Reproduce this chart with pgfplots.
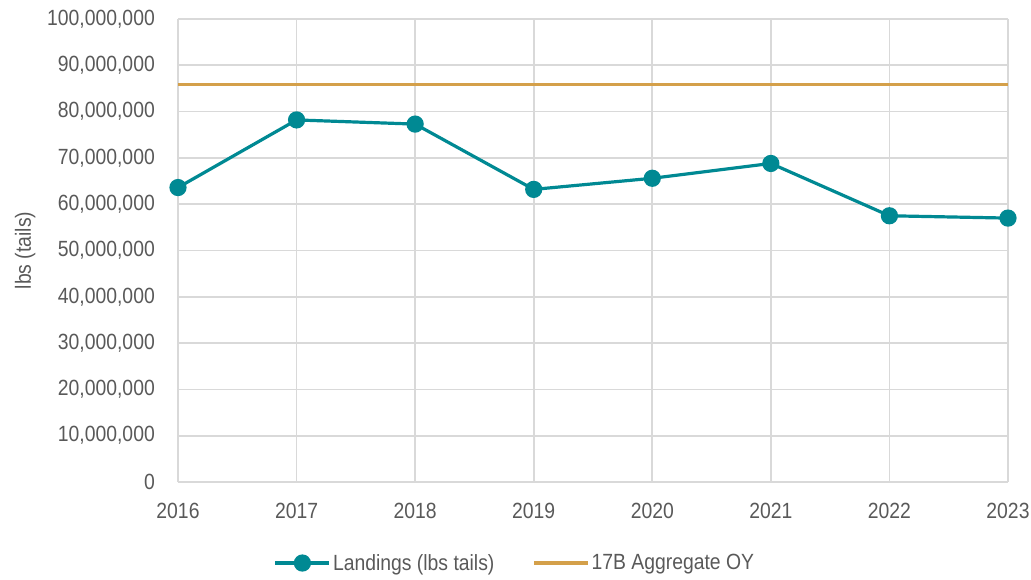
\documentclass[border=0pt]{standalone}
\usepackage{fontspec}
\setmainfont{Liberation Sans}[FakeStretch=0.88]
\usepackage{pgfplots}
\pgfplotsset{compat=1.18}
\definecolor{teal1}{RGB}{0,137,147}
\definecolor{gold1}{RGB}{212,160,74}
\definecolor{grid1}{RGB}{217,217,217}
\definecolor{axis1}{RGB}{191,191,191}
\definecolor{txt}{RGB}{89,89,89}
\begin{document}
\begin{tikzpicture}[x=1pt,y=1pt]
\path[use as bounding box] (0,0) rectangle (1031,579);
\begin{axis}[
  at={(178pt,97pt)}, anchor=south west,
  scale only axis, width=830pt, height=463pt,
  xmin=2016, xmax=2023, ymin=0, ymax=100000000,
  xtick={2016,2017,2018,2019,2020,2021,2022,2023},
  ytick={0,10000000,20000000,30000000,40000000,50000000,60000000,70000000,80000000,90000000,100000000},
  scaled y ticks=false,
  major tick length=0pt,
  axis line style={draw=none},
  grid=major,
  major grid style={grid1, line width=1.6pt},
  extra y ticks={0},
  extra y tick labels={},
  extra y tick style={grid style={axis1, line width=1.8pt}},
  font=\fontsize{22}{26}\selectfont,
  tick label style={txt},
  /pgf/number format/assume math mode=true,
  xticklabel style={anchor=north, inner sep=0pt, yshift=-21pt, /pgf/number format/1000 sep={}},
  yticklabel style={anchor=east, inner sep=0pt, xshift=-23pt, /pgf/number format/.cd, fixed, precision=0, 1000 sep={,}},
  ylabel={lbs (tails)},
  ylabel style={at={(axis description cs:-0.184,0.5)}, anchor=center, txt},
  legend columns=2,
  legend style={at={(axis description cs:0.406,-0.175)}, anchor=center, draw=none, fill=none,
    font=\fontsize{22}{26}\selectfont, text=txt,
    /tikz/every even column/.append style={column sep=36pt},
    nodes={inner sep=2pt}},
  legend image code/.code={\draw[mark repeat=2,mark phase=2,#1] plot coordinates {(0pt,0pt)(27pt,0pt)(54pt,0pt)};},
  clip=false,
]
\addplot[teal1, line width=3.2pt, mark=*, mark size=7pt, mark options={solid, fill=teal1, draw=none}]
  coordinates {(2016,63600000) (2017,78200000) (2018,77300000) (2019,63200000) (2020,65600000) (2021,68800000) (2022,57500000) (2023,57000000)};
\addlegendentry{Landings (lbs tails)}
\addplot[gold1, line width=3.2pt]
  coordinates {(2016,85800000) (2023,85800000)};
\addlegendentry{17B Aggregate OY}
\end{axis}
\end{tikzpicture}
\end{document}
